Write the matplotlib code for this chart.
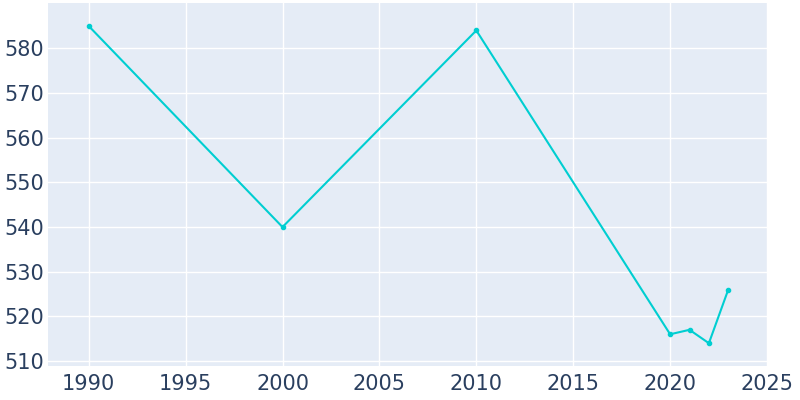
import matplotlib
matplotlib.use("Agg")
from matplotlib import pyplot as plt

years = [1990, 2000, 2010, 2020, 2021, 2022, 2023]
population = [585, 540, 584, 516, 517, 514, 526]
xticks = [1990, 1995, 2000, 2005, 2010, 2015, 2020, 2025]
yticks = [510, 520, 530, 540, 550, 560, 570, 580]

text_color = "#2a3f5f"
line_color = "#00CED1"

fig = plt.figure(figsize=(8, 4), dpi=100)
ax = fig.add_axes([0.06, 0.085, 0.90, 0.907])
ax.set_facecolor("#E5ECF6")

ax.plot(years, population, color=line_color, linewidth=1.5, marker="o", markersize=3)

ax.set_xlim(1987.9, 2025.05)
ax.set_ylim(508.9, 590.1)
ax.set_xticks(xticks)
ax.set_yticks(yticks)
ax.grid(True, color="white", linewidth=1)
ax.set_axisbelow(True)
for s in ax.spines.values():
    s.set_visible(False)
ax.tick_params(length=0, labelsize=15, colors=text_color)
ax.tick_params(axis="y", pad=3)
ax.tick_params(axis="x", pad=6)

fig.savefig("out.png", dpi=100)
